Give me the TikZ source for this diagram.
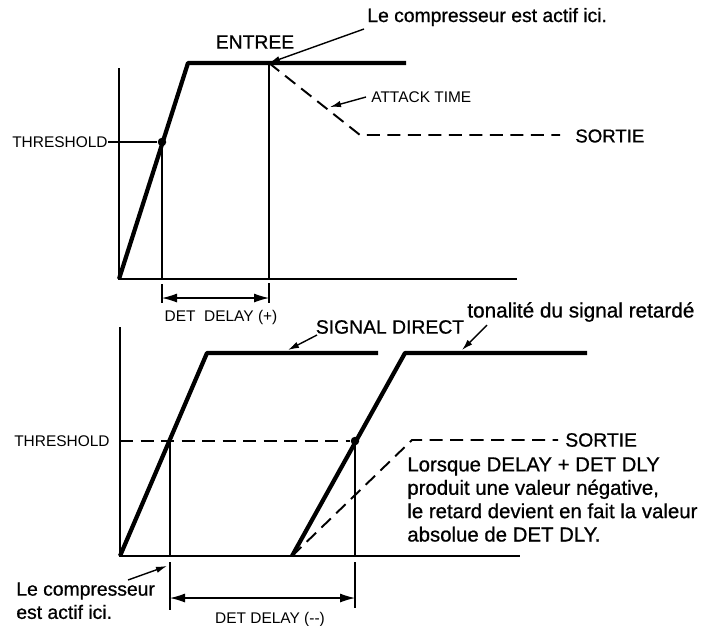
\documentclass[tikz,border=0pt]{standalone}
\usepackage{fontspec}
\setmainfont{Liberation Sans}
\newfontfamily\medfont{Liberation Sans}[FakeBold=0.8]
\usetikzlibrary{
  arrows.meta,
  positioning
}
\tikzset{
  axis/.style={line width=1.1pt},
  signal/.style={line width=2.4pt, line join=round},
  guide/.style={line width=0.6pt},
  outdash/.style={line width=1.1pt, dash pattern=on 2.6mm off 1.5mm},
  dimarr/.style={{Latex[length=3mm,width=1.8mm]}-{Latex[length=3mm,width=1.8mm]},
    line width=0.6pt},
  lead/.style={-{Latex[length=2.2mm,width=1.3mm]}, line width=0.8pt},
  dot/.style={circle, fill, inner sep=0pt, minimum size=1.7mm},
  biglabel/.style={font=\medfont\fontsize{11}{13.2}\selectfont, inner sep=0pt},
  smalllabel/.style={font=\fontsize{8.8}{10.5}\selectfont, inner sep=0pt},
}

\begin{document}
\begin{tikzpicture}[x=0.2mm, y=-0.2mm]
  \useasboundingbox (0,0) rectangle (705,625);

  % Upper graph
  \coordinate (o1) at (119,279);
  \coordinate (in1) at (188,63);
  \coordinate (act) at (269,63);
  \coordinate (end1) at (406,63);
  \coordinate (att) at (360,135);
  \coordinate (out1) at (560,135);
  \draw[axis] (119,68) -- (o1) -- (517,279);
  \draw[signal] (o1) -- (in1) -- (end1);
  \node[dot] (thr1) at (162,142) {};
  \draw[guide] (thr1) -- (thr1 |- o1);
  \draw[guide] (act) -- (act |- o1);
  \draw[outdash] (act) -- (att) -- (out1);

  \node[biglabel] (entree) at (255,42) {ENTREE};
  \node[biglabel, anchor=west] (actif1) at (367,17) {Le compresseur est actif ici.};
  \node[smalllabel, anchor=west] (attack) at (371,97) {ATTACK TIME};
  \node[biglabel, font=\medfont\fontsize{10.6}{12}\selectfont, anchor=west] (sortie1)
    at (575,136) {SORTIE};
  \node[smalllabel, anchor=east] (thresh1) at (108,142) {THRESHOLD};
  \draw[guide] (thresh1.east) -- (thr1);

  \coordinate (l1) at (364,29);
  \coordinate (l2) at (366,97);
  \draw[lead] (l1) -- (act);
  \draw[lead] (l2) -- (330,107);

  % DET DELAY (+)
  \coordinate (d1a) at (162,298);
  \coordinate (d1b) at (269,298);
  \draw[guide] (162,284) -- (162,303);
  \draw[guide] (269,283) -- (269,303);
  \draw[dimarr] (d1a) -- (d1b);
  \node[smalllabel] (det1) at (221,317) {DET\ \ DELAY (+)};

  % Lower graph
  \coordinate (o2) at (120,556);
  \coordinate (in2) at (207,353);
  \coordinate (end2) at (378,353);
  \coordinate (s2) at (292,556);
  \coordinate (in3) at (405,353);
  \coordinate (end3) at (587,353);
  \coordinate (knee) at (412,440);
  \coordinate (out2) at (558,440);
  \draw[axis] (120,327) -- (o2) -- (520,556);
  \draw[signal] (o2) -- (in2) -- (end2);
  \draw[signal] (s2) -- (in3) -- (end3);
  \node[dot] (thr2) at (355,441) {};
  \coordinate (cross) at (170,441);
  \draw[outdash] (120,441) -- (thr2);
  \draw[guide] (cross) -- (cross |- o2);
  \draw[guide] (thr2) -- (thr2 |- o2);
  \draw[outdash] (s2) -- (knee) -- (out2);

  \node[smalllabel, anchor=east] (thresh2) at (110,441) {THRESHOLD};
  \node[biglabel] (direct) at (390,327) {SIGNAL DIRECT};
  \node[biglabel, font=\medfont\fontsize{11.8}{14}\selectfont, anchor=west] (tonal)
    at (467,312) {tonalité du signal retardé};
  \node[biglabel, anchor=west] (sortie2) at (565,440) {SORTIE};
  \node[biglabel, font=\medfont\fontsize{11.6}{13.3}\selectfont,
        anchor=north west, align=left] (note) at (407,457)
    {Lorsque DELAY + DET DLY\\produit une valeur négative,\\le retard devient en fait la valeur\\absolue de DET DLY.};
  \node[biglabel, anchor=north west, align=left] (actif2) at (16,582)
    {Le compresseur\\est actif ici.};

  \coordinate (l3) at (317,335);
  \coordinate (l4) at (487,325);
  \coordinate (l5) at (128,580);
  \draw[lead] (l3) -- (288,350);
  \draw[lead] (l4) -- (462,350);
  \draw[lead] (l5) -- (167,566);

  % DET DELAY (--)
  \coordinate (d2a) at (170,598);
  \coordinate (d2b) at (355,598);
  \draw[guide] (170,562) -- (170,610);
  \draw[guide] (355,562) -- (355,608);
  \draw[dimarr] (d2a) -- (d2b);
  \node[smalllabel] (det2) at (270,619) {DET DELAY ({-}{-})};
\end{tikzpicture}
\end{document}
